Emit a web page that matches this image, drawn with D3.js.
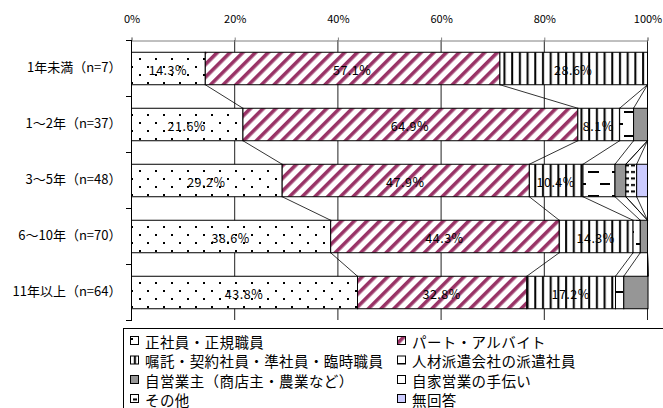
<!DOCTYPE html>
<html><head><meta charset="utf-8">
<script src="https://cdn.jsdelivr.net/npm/d3@7"></script>
<style>
html,body{margin:0;padding:0;background:#fff;}
svg{display:block;font-family:"Noto Sans CJK JP","Noto Sans",sans-serif;}
</style></head>
<body><svg id="c" width="663" height="408"></svg>
<script>
const categories = ["1年未満（n=7）", "1～2年（n=37）", "3～5年（n=48）", "6～10年（n=70）", "11年以上（n=64）"];
const seriesNames = ["正社員・正規職員", "パート・アルバイト", "嘱託・契約社員・準社員・臨時職員", "人材派遣会社の派遣社員", "自営業主（商店主・農業など）", "自家営業の手伝い", "その他", "無回答"];
const seiki     = [14.3, 21.6, 29.2, 38.6, 43.8];
const part      = [57.1, 64.9, 47.9, 44.3, 32.8];
const shokutaku = [28.6, 8.1, 10.4, 14.3, 17.2];
const haken     = [0, 2.7, 6.2, 1.4, 1.6];
const jieigyo   = [0, 2.7, 2.1, 1.4, 4.7];
const tetsudai  = [0, 0, 0, 0, 0];
const sonota    = [0, 0, 2.1, 0, 0];
const mukaitou  = [0, 0, 2.1, 0, 0];
const tickValues = [0, 20, 40, 60, 80, 100];
const labeledSeries = [0, 1, 2];

const seriesValues = [seiki, part, shokutaku, haken, jieigyo, tetsudai, sonota, mukaitou];
const keys = seriesNames.map((d, i) => "s" + i);
const table = categories.map((c, i) => {
  const row = {cat: c};
  keys.forEach((k, j) => row[k] = seriesValues[j][i]);
  return row;
});

const svg = d3.select("#c");
const defs = svg.append("defs");

function pat(id, w, h, build, transform) {
  const p = defs.append("pattern").attr("id", id).attr("patternUnits", "userSpaceOnUse")
    .attr("width", w).attr("height", h);
  if (transform) p.attr("patternTransform", transform);
  p.append("rect").attr("width", w).attr("height", h).attr("fill", "#fff");
  build(p);
}
pat("p0", 16, 16, p => {
  p.append("rect").attr("x", 3).attr("y", 2).attr("width", 2).attr("height", 2).attr("fill", "#000");
  p.append("rect").attr("x", 11).attr("y", 10).attr("width", 2).attr("height", 2).attr("fill", "#000");
});
pat("p1", 9, 9, p => {
  p.append("rect").attr("x", 0).attr("y", 0).attr("width", 3.6).attr("height", 9).attr("fill", "#993366");
}, "rotate(45)");
pat("p2", 7.7, 8, p => {
  p.append("rect").attr("x", 3).attr("y", 0).attr("width", 2).attr("height", 8).attr("fill", "#000");
});
pat("p3", 24, 24, p => {
  p.append("rect").attr("x", 12).attr("y", 3).attr("width", 11).attr("height", 2).attr("fill", "#000");
  p.append("rect").attr("x", 0).attr("y", 15).attr("width", 10).attr("height", 2).attr("fill", "#000");
});
pat("p6", 6, 6.5, p => {
  p.append("rect").attr("x", 1).attr("y", 2).attr("width", 4).attr("height", 2).attr("fill", "#000");
});
const fills = ["url(#p0)", "url(#p1)", "url(#p2)", "url(#p3)", "#969696", "#ffffff", "url(#p6)", "#ccccff"];

const x = d3.scaleLinear().domain([0, 100]).range([131, 647]);
const y = d3.scaleBand().domain(categories).range([40, 320]).paddingInner(0.42).paddingOuter(0.21);
const bw = y.bandwidth();

svg.append("g").selectAll("line").data(tickValues.filter(d => d > 0)).join("line")
  .attr("x1", d => x(d) + 0.5).attr("x2", d => x(d) + 0.5)
  .attr("y1", 40).attr("y2", 320).attr("stroke", "#222").attr("stroke-width", 1);

const ax = svg.append("g").attr("transform", "translate(0.5,40.5)")
  .call(d3.axisTop(x).tickValues(tickValues).tickFormat(d => d + "%").tickSize(3).tickPadding(15));
ax.select(".domain").attr("stroke", "#808080");
ax.selectAll(".tick line").attr("stroke", "#808080");
ax.selectAll("text").attr("font-size", 11).attr("fill", "#000").attr("font-family", "'Noto Sans CJK JP',sans-serif");

const stacked = d3.stack().keys(keys)(table);

const gBars = svg.append("g");
stacked.forEach((s, k) => {
  gBars.append("g").selectAll("rect").data(s.filter(d => d[1] - d[0] > 0)).join("rect")
    .attr("x", d => x(d[0]) + 0.5).attr("y", d => y(d.data.cat) + 0.5)
    .attr("width", d => x(d[1]) - x(d[0])).attr("height", bw)
    .attr("fill", fills[k]).attr("stroke", "#000").attr("stroke-width", 1);
});

const gLines = svg.append("g");
stacked.forEach((s, k) => {
  for (let i = 0; i < categories.length - 1; i++) {
    gLines.append("line")
      .attr("x1", x(s[i][1]) + 0.5).attr("y1", y(categories[i]) + bw + 0.5)
      .attr("x2", x(s[i + 1][1]) + 0.5).attr("y2", y(categories[i + 1]) + 0.5)
      .attr("stroke", "#000").attr("stroke-width", 0.8);
  }
});

const gLab = svg.append("g");
labeledSeries.forEach(k => {
  gLab.append("g").selectAll("text").data(stacked[k]).join("text")
    .attr("x", d => (x(d[0]) + x(d[1])) / 2).attr("y", d => y(d.data.cat) + bw / 2 + 1)
    .attr("text-anchor", "middle").attr("dominant-baseline", "central")
    .attr("font-size", 12.5).attr("letter-spacing", 0.5)
    .text(d => d3.format(".1f")(d[1] - d[0]) + "%");
});

const gl = svg.append("g").attr("transform", "translate(131.5,0)")
  .call(d3.axisLeft(y).tickSize(0).tickPadding(10));
gl.select(".domain").attr("stroke", "#000").attr("d", "M0,40V321");
gl.selectAll("text").attr("font-size", 13).attr("fill", "#000").attr("font-family", "'Noto Sans CJK JP',sans-serif");
const bounds = d3.range(categories.length + 1).map(i => y.range()[0] + i * y.step());
svg.append("g").selectAll("line").data(bounds).join("line")
  .attr("x1", 126).attr("x2", 131.5).attr("y1", d => Math.round(d) + 0.5).attr("y2", d => Math.round(d) + 0.5)
  .attr("stroke", "#000");

const lg = svg.append("g");
lg.append("rect").attr("x", 123.5).attr("y", 328.5).attr("width", 600).attr("height", 120)
  .attr("fill", "#fff").attr("stroke", "#000");
const legendRowY = [341, 360.5, 380, 399];
const legendColX = [130, 397];
seriesNames.forEach((n, i) => {
  const cx = legendColX[i % 2], cy = legendRowY[Math.floor(i / 2)];
  lg.append("rect").attr("x", cx + 0.5).attr("y", cy - 4.5).attr("width", 8).attr("height", 8)
    .attr("fill", fills[i]).attr("stroke", "#000");
  lg.append("text").attr("x", cx + 15).attr("y", cy).attr("dominant-baseline", "central")
    .attr("font-size", 14.5).attr("letter-spacing", 0.4).text(n);
});
</script></body></html>
